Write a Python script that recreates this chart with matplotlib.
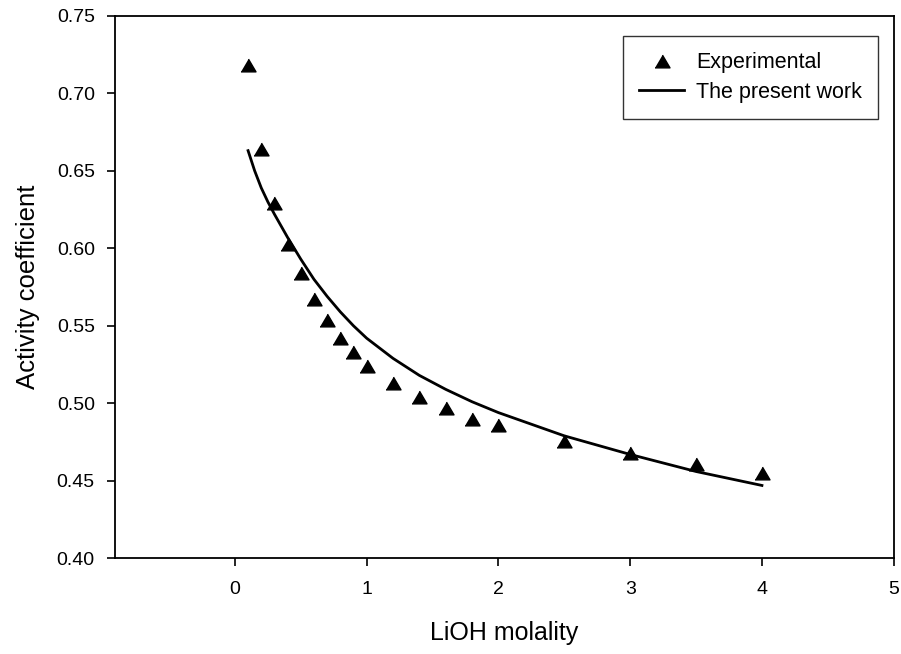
import matplotlib
matplotlib.use("Agg")
import matplotlib.pyplot as plt

plt.rcParams['font.family'] = ['Liberation Sans', 'DejaVu Sans']

# Experimental data
exp_m = [0.1, 0.2, 0.3, 0.4, 0.5, 0.6, 0.7, 0.8, 0.9, 1.0, 1.2, 1.4, 1.6, 1.8, 2.0, 2.5, 3.0, 3.5, 4.0]
exp_gamma = [0.718, 0.664, 0.629, 0.603, 0.584, 0.567, 0.554, 0.542, 0.533, 0.524,
             0.513, 0.504, 0.497, 0.490, 0.486, 0.476, 0.468, 0.461, 0.455]

# Model ("The present work")
model_m = [0.1, 0.15, 0.2, 0.25, 0.3, 0.4, 0.5, 0.6, 0.7, 0.8, 0.9, 1.0,
           1.2, 1.4, 1.6, 1.8, 2.0, 2.5, 3.0, 3.5, 4.0]
model_gamma = [0.663, 0.650, 0.639, 0.630, 0.622, 0.607, 0.593, 0.580, 0.569, 0.559, 0.550, 0.542,
               0.529, 0.518, 0.509, 0.501, 0.494, 0.479, 0.467, 0.456, 0.447]

x_ticks = [0, 1, 2, 3, 4, 5]
y_ticks = [0.40, 0.45, 0.50, 0.55, 0.60, 0.65, 0.70, 0.75]

fig = plt.figure(figsize=(9.01, 6.54), dpi=100)
ax = fig.add_axes([115/901, 1 - 558.3/654, (893.7 - 115) / 901, (558.3 - 15.8) / 654])

tri = [(-1, -0.85), (1, -0.85), (0, 0.85)]
ax.plot(exp_m, exp_gamma, linestyle='none', marker=tri, color='black', markersize=10.8,
        label='Experimental')
ax.plot(model_m, model_gamma, color='black', linewidth=2, label='The present work')

ax.set_xlim(-0.91, 5)
ax.set_ylim(0.40, 0.75)
ax.set_xticks(x_ticks)
ax.set_yticks(y_ticks)
ax.set_yticklabels([f"{v:.2f}" for v in y_ticks])
ax.tick_params(direction='out', length=6, width=1.2, labelsize=14, pad=8.5,
               top=False, right=False)
ax.tick_params(axis='x', pad=10)
for s in ax.spines.values():
    s.set_linewidth(1.3)

ax.set_xlabel('LiOH molality', fontsize=18, labelpad=17)
ax.set_ylabel('Activity coefficient', fontsize=18.5, labelpad=12)

leg = ax.legend(loc='upper right', fontsize=15.5, frameon=True, fancybox=False,
                edgecolor='black', borderaxespad=0.0,
                bbox_to_anchor=(878/901, 1 - 36/654), bbox_transform=fig.transFigure,
                handlelength=2.1, handletextpad=0.55, borderpad=0.75, labelspacing=0.4)
leg.get_frame().set_linewidth(1.0)

fig.savefig('out.png', dpi=100)
